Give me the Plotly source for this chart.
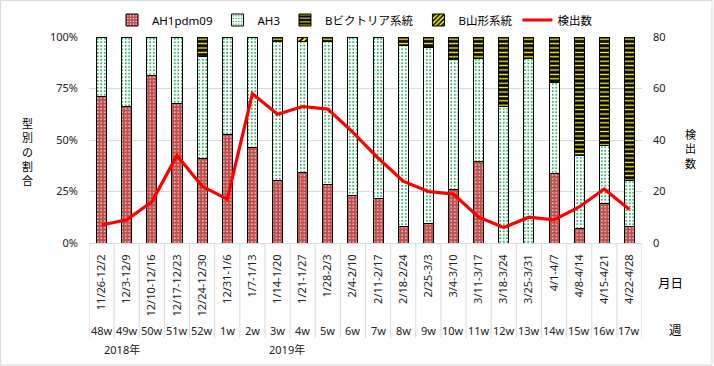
import plotly.graph_objects as go

weeks = ["48w","49w","50w","51w","52w","1w","2w","3w","4w","5w","6w","7w",
         "8w","9w","10w","11w","12w","13w","14w","15w","16w","17w"]
dates = ["11/26-12/2","12/3-12/9","12/10-12/16","12/17-12/23","12/24-12/30",
         "12/31-1/6","1/7-1/13","1/14-1/20","1/21-1/27","1/28-2/3","2/4-2/10",
         "2/11-2/17","2/18-2/24","2/25-3/3","3/4-3/10","3/11-3/17","3/18-3/24",
         "3/25-3/31","4/1-4/7","4/8-4/14","4/15-4/21","4/22-4/28"]
years = ["2018年", "2019年"]
pct_ticks = [0, 25, 50, 75, 100]
pct_labels = ["0%", "25%", "50%", "75%", "100%"]
count_ticks = [0, 20, 40, 60, 80]

ah1 = [71.2, 66.5, 81.1, 67.5, 40.8, 52.9, 46.6, 30.1, 34.0, 28.6, 23.3, 21.4,
       8.1, 9.7, 26.2, 39.8, 0, 0, 33.5, 6.8, 19.1, 7.8]
ah3 = [28.8, 33.5, 18.9, 32.5, 49.8, 47.1, 53.4, 67.8, 63.9, 69.3, 76.7, 78.6,
       87.9, 85.4, 63.1, 49.8, 66.3, 89.6, 44.2, 35.8, 28.3, 22.6]
bvic = [0, 0, 0, 0, 9.4, 0, 0, 2.1, 0, 2.1, 0, 0,
        4.0, 4.9, 10.7, 10.4, 33.7, 10.4, 22.3, 57.4, 52.6, 69.6]
byam = [0, 0, 0, 0, 0, 0, 0, 0, 2.1, 0, 0, 0,
        0, 0, 0, 0, 0, 0, 0, 0, 0, 0]
counts = [7, 9, 16, 34, 22, 17, 58, 50, 53, 52, 43, 33,
          24, 20, 19, 10, 6, 10, 9, 14, 21, 13]

def nz(v):
    return [x if x else None for x in v]

FONT = "Noto Sans, Noto Sans CJK JP, sans-serif"
GRID = "#d9d9d9"

fig = go.Figure()
bar_specs = [
    ("AH1pdm09", ah1, "#c0504d", "#ffffff", ".", 3.5, 0.15),
    ("AH3", ah3, "#ffffff", "#00a040", ".", 3.5, 0.22),
    ("Bビクトリア系統", bvic, "#000000", "#ffff00", "-", 4.4, 0.3),
    ("B山形系統", byam, "#ffff00", "#000000", "/", 4, 0.5),
]
for name, vals, bg, fg, shape, size, sol in bar_specs:
    fig.add_trace(go.Bar(
        x=dates, y=nz(vals), name=name, width=0.4,
        marker=dict(color=bg, line=dict(color="#000000", width=1),
                    pattern=dict(shape=shape, bgcolor=bg, fgcolor=fg,
                                 size=size, solidity=sol, fillmode="replace")),
    ))
fig.add_trace(go.Scatter(
    x=dates, y=counts, name="検出数", yaxis="y2", mode="lines",
    line=dict(color="#ff0000", width=3.2),
))

L, R, T, B = 89, 72, 37, 123
W, H = 714, 366
pw, ph = W - L - R, H - T - B

def px(x):
    return (x - L) / pw

def py(y):
    return (H - B - y) / ph

shapes = []
for i in range(len(dates) + 1):
    shapes.append(dict(type="line", xref="x", yref="paper", x0=i - 0.5, x1=i - 0.5,
                       y0=0, y1=py(338), line=dict(color=GRID, width=1)))
shapes.append(dict(type="rect", xref="paper", yref="paper",
                   x0=px(0.5), x1=px(712), y0=py(365), y1=py(0.5),
                   line=dict(color=GRID, width=1)))

ann = []
def add_text(x, y, text, size, color, xref="paper"):
    ann.append(dict(x=x, xref=xref, y=y, yref="paper", text=text, showarrow=False,
                    xanchor="center", yanchor="middle",
                    font=dict(size=size, color=color)))

for d, w in zip(dates, weeks):
    add_text(d, py(330), w, 11, "#222222", xref="x")
add_text(px(122), py(349), years[0], 11, "#222222")
add_text(px(287), py(349), years[1], 11, "#222222")
add_text(px(670), py(283), "月日", 12.5, "#000000")
add_text(px(675), py(330), "週", 12.5, "#000000")
add_text(px(27.5), py(151.5), "<br>".join("型別の割合"), 11, "#000000")
add_text(px(690), py(149), "<br>".join("検出数"), 11, "#000000")

fig.update_layout(
    width=W, height=H, margin=dict(l=L, r=R, t=T, b=B, pad=0, autoexpand=False),
    paper_bgcolor="#ffffff", plot_bgcolor="#ffffff",
    font=dict(family=FONT, size=11, color="#222222"),
    barmode="stack", bargap=0.6,
    showlegend=True,
    legend=dict(orientation="h", xref="container", x=112 / W, xanchor="left",
                yref="container", y=1 - 20 / H, yanchor="middle",
                font=dict(size=11.5, color="#000000"), bgcolor="rgba(0,0,0,0)",
                itemwidth=30, traceorder="normal"),
    xaxis=dict(type="category", tickangle=-90, showgrid=False, showline=True,
               linecolor=GRID, linewidth=1, ticks="", tickfont=dict(size=11),
               ticklabelstandoff=6, range=[-0.5, len(dates) - 0.5], automargin=False),
    yaxis=dict(range=[0, 100], tickvals=pct_ticks, ticktext=pct_labels,
               showgrid=True, gridcolor=GRID, gridwidth=1, zeroline=False,
               showline=False, ticks="", ticklabelstandoff=10, automargin=False),
    yaxis2=dict(range=[0, 80], tickvals=count_ticks, overlaying="y",
                side="right", showgrid=False, zeroline=False, showline=False,
                ticks="", ticklabelstandoff=10, automargin=False),
    shapes=shapes, annotations=ann,
)

fig.write_html("out.html", config={"displayModeBar": False},
               post_script="document.body.style.margin='0';document.body.style.overflow='hidden';")
